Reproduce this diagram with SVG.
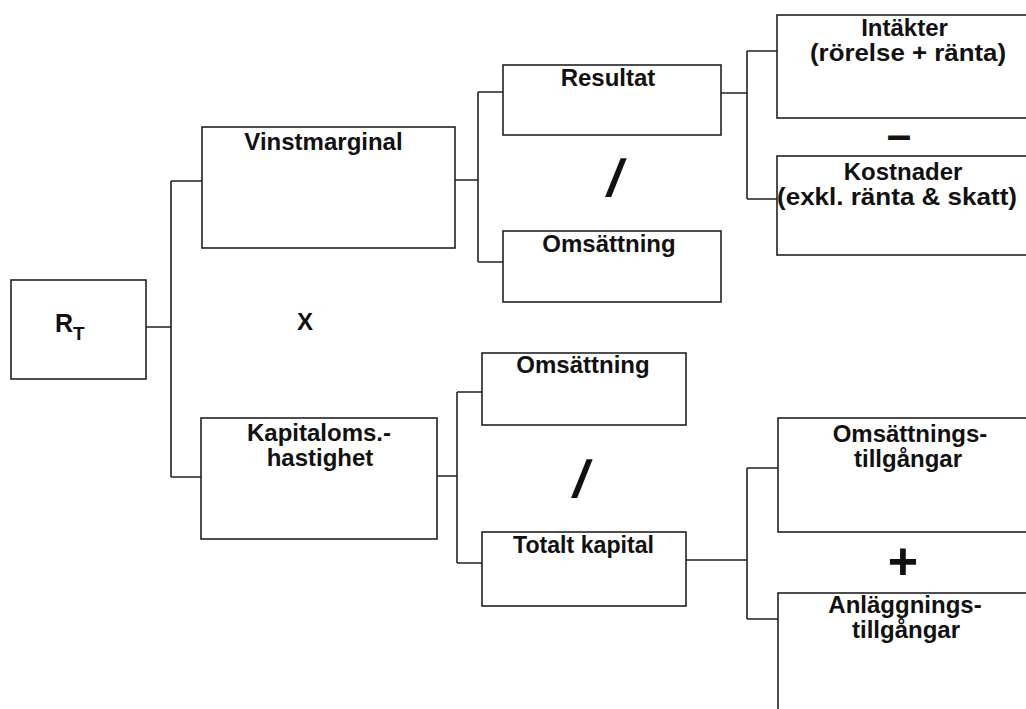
<svg xmlns="http://www.w3.org/2000/svg" width="1026" height="709" viewBox="0 0 1026 709">
<style>
.box{fill:#fff;stroke:#222;stroke-width:1.6}
.con{fill:none;stroke:#222;stroke-width:1.6}
text{font-family:"Liberation Sans",Arial,Helvetica,sans-serif;font-weight:bold;font-size:24px;fill:#111;text-anchor:middle}
.op{font-size:52px}
</style>
<rect width="1026" height="709" fill="#fff"/>
<g id="connectors">
<path class="con" d="M146,327H171M171,181V477M171,181H202M171,477H202"/>
<path class="con" d="M455,180H478M478,92V262M478,92H503M478,262H503"/>
<path class="con" d="M721,93H747M747,51V199M747,51H777M747,199H777"/>
<path class="con" d="M437,476H457M457,392V563M457,392H482M457,563H482"/>
<path class="con" d="M686,560H747M747,468V619M747,468H778M747,619H778"/>
</g>
<g id="node-rt">
<rect class="box" x="11" y="280" width="135" height="99"/>
<text x="55" y="332" style="text-anchor:start;font-size:25px">R<tspan dy="8" style="font-size:19px">T</tspan></text>
</g>
<g id="node-vinstmarginal">
<rect class="box" x="202" y="127" width="253" height="121"/>
<text x="323.5" y="150">Vinstmarginal</text>
</g>
<g id="node-kapitaloms">
<rect class="box" x="201" y="418" width="236" height="121"/>
<text x="319" y="441">Kapitaloms.-</text>
<text x="320" y="466">hastighet</text>
</g>
<g id="node-resultat">
<rect class="box" x="503" y="65" width="218" height="70"/>
<text x="608" y="86">Resultat</text>
</g>
<g id="node-omsattning1">
<rect class="box" x="503" y="231" width="218" height="71"/>
<text x="609" y="252">Omsättning</text>
</g>
<g id="node-omsattning2">
<rect class="box" x="482" y="353" width="204" height="72"/>
<text x="583" y="373">Omsättning</text>
</g>
<g id="node-totalt">
<rect class="box" x="482" y="532" width="204" height="74"/>
<text x="583.5" y="553" textLength="141" lengthAdjust="spacingAndGlyphs">Totalt kapital</text>
</g>
<g id="node-intakter">
<rect class="box" x="777" y="15" width="260" height="103"/>
<text x="904.5" y="36">Intäkter</text>
<text x="908" y="61" textLength="196" lengthAdjust="spacingAndGlyphs">(rörelse + ränta)</text>
</g>
<g id="node-kostnader">
<rect class="box" x="777" y="156" width="260" height="99"/>
<text x="903" y="180">Kostnader</text>
<text x="897" y="205" textLength="240" lengthAdjust="spacingAndGlyphs">(exkl. ränta &amp; skatt)</text>
</g>
<g id="node-omsattningstillgangar">
<rect class="box" x="778" y="418" width="260" height="114"/>
<text x="910" y="442">Omsättnings-</text>
<text x="908" y="467">tillgångar</text>
</g>
<g id="node-anlaggningstillgangar">
<rect class="box" x="778" y="593" width="260" height="140"/>
<text x="905" y="613">Anläggnings-</text>
<text x="906" y="638">tillgångar</text>
</g>
<g id="operators">
<text x="305" y="330">X</text>
<text class="op" transform="translate(612,196) skewX(-12)">/</text>
<text class="op" transform="translate(578,497) skewX(-12)">/</text>
<text x="899" y="150" style="font-size:44px">–</text>
<text class="op" x="903" y="579">+</text>
</g>
</svg>
